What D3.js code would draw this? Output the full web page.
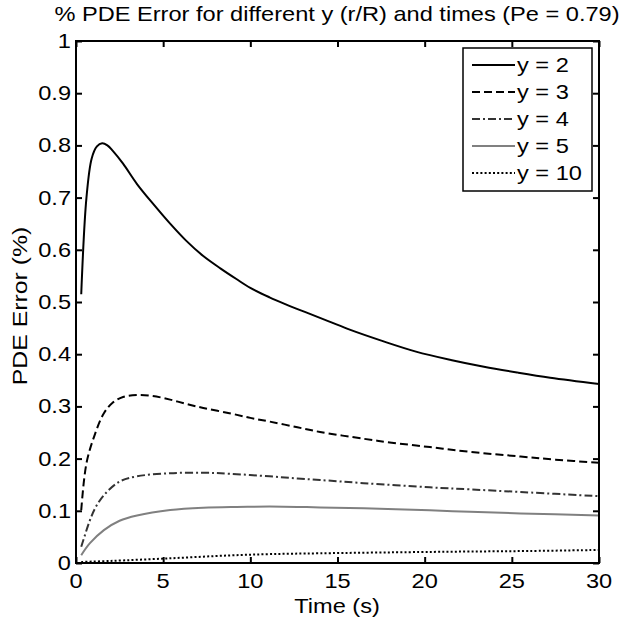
<!DOCTYPE html>
<html>
<head>
<meta charset="utf-8">
<script src="https://cdn.jsdelivr.net/npm/d3@7"></script>
<style>
  html, body { margin: 0; padding: 0; background: #fff; }
  text { font-family: "Liberation Sans", Arial, sans-serif; fill: #000; }
</style>
</head>
<body>
<svg id="chart" width="622" height="621"></svg>
<script>
// ---- data ----
const xTicks = [0, 5, 10, 15, 20, 25, 30];
const yTicks = [0, 0.1, 0.2, 0.3, 0.4, 0.5, 0.6, 0.7, 0.8, 0.9, 1];
const yTickLabels = ["0", "0.1", "0.2", "0.3", "0.4", "0.5", "0.6", "0.7", "0.8", "0.9", "1"];
const seriesNames = ["y = 2", "y = 3", "y = 4", "y = 5", "y = 10"];

const t2 = [0.3, 0.6, 0.9, 1.2, 1.5, 1.8, 2.1, 2.7, 3.5, 4.5, 5.4, 6.3, 7.3, 8.3, 9.2, 10, 11.1, 12, 13.2, 14.5, 15.7, 17.6, 19.5, 21.5, 23.4, 25.3, 27.2, 30];
const v2 = [0.515, 0.700, 0.775, 0.798, 0.804, 0.800, 0.790, 0.765, 0.726, 0.685, 0.650, 0.618, 0.588, 0.564, 0.544, 0.527, 0.509, 0.496, 0.480, 0.463, 0.447, 0.425, 0.405, 0.389, 0.376, 0.365, 0.355, 0.343];

const t3 = [0.3, 0.6, 1.1, 1.6, 2.1, 2.7, 3.5, 4.4, 5.4, 6.3, 7.3, 8.8, 10, 11.1, 12.7, 14, 16.5, 18, 20.3, 22.6, 25.5, 27.5, 30];
const v3 = [0.101, 0.191, 0.248, 0.287, 0.307, 0.318, 0.322, 0.320, 0.313, 0.305, 0.297, 0.287, 0.278, 0.271, 0.260, 0.251, 0.238, 0.231, 0.222, 0.213, 0.204, 0.198, 0.192];

const t4 = [0.3, 0.8, 1.1, 1.6, 2.5, 3.5, 5.4, 7.3, 8.8, 11.1, 12.7, 14, 16.5, 20.3, 22.6, 25.5, 30];
const v4 = [0.031, 0.082, 0.105, 0.130, 0.156, 0.166, 0.172, 0.173, 0.171, 0.166, 0.162, 0.159, 0.153, 0.145, 0.141, 0.136, 0.128];

const t5 = [0.3, 0.8, 1.6, 2.5, 3.5, 5.4, 7.3, 9.2, 11.1, 12.7, 14, 16.5, 20.3, 22.6, 25.5, 30];
const v5 = [0.015, 0.038, 0.063, 0.081, 0.091, 0.1015, 0.106, 0.1075, 0.108, 0.1075, 0.1065, 0.105, 0.101, 0.098, 0.095, 0.091];

const t10 = [0.3, 2, 5.4, 8.8, 11.1, 14, 19.7, 22.6, 26, 30];
const v10 = [0.002, 0.004, 0.009, 0.0145, 0.017, 0.0186, 0.021, 0.022, 0.023, 0.025];

// ---- layout ----
const svg = d3.select("#chart");
const L = 76, R = 599, T = 41, B = 563;
const x = d3.scaleLinear().domain([0, 30]).range([L, R]);
const y = d3.scaleLinear().domain([0, 1]).range([B, T]);
const FS = 20, SX = 1.18;

const styles = [
  { color: "#000", dash: null, width: 2 },
  { color: "#000", dash: "8,4", width: 2 },
  { color: "#333", dash: "8,3,2,3", width: 2 },
  { color: "#808080", dash: null, width: 2 },
  { color: "#000", dash: "2,2.2", width: 2 }
];
const series = [[t2, v2], [t3, v3], [t4, v4], [t5, v5], [t10, v10]];

const line = d3.line().x(d => x(d[0])).y(d => y(d[1])).curve(d3.curveCatmullRom.alpha(0.5));

const gLines = svg.append("g");
series.forEach((s, i) => {
  const pts = s[0].map((t, k) => [t, s[1][k]]);
  gLines.append("path").datum(pts)
    .attr("d", line)
    .attr("fill", "none")
    .attr("stroke", styles[i].color)
    .attr("stroke-width", styles[i].width)
    .attr("stroke-dasharray", styles[i].dash);
});

// axes (ticks inward, mirrored)
function styleAxis(g) {
  g.select(".domain").remove();
  g.selectAll(".tick line").attr("stroke", "#000").attr("stroke-width", 2);
}
svg.append("g").attr("transform", `translate(0,${B})`)
  .call(d3.axisBottom(x).tickValues(xTicks).tickSize(-6).tickFormat(""))
  .call(styleAxis);
svg.append("g").attr("transform", `translate(0,${T})`)
  .call(d3.axisTop(x).tickValues(xTicks).tickSize(-6).tickFormat(""))
  .call(styleAxis);
svg.append("g").attr("transform", `translate(${L},0)`)
  .call(d3.axisLeft(y).tickValues(yTicks).tickSize(-6).tickFormat(""))
  .call(styleAxis);
svg.append("g").attr("transform", `translate(${R},0)`)
  .call(d3.axisRight(y).tickValues(yTicks).tickSize(-6).tickFormat(""))
  .call(styleAxis);

svg.append("rect").attr("x", L).attr("y", T).attr("width", R - L).attr("height", B - T)
  .attr("fill", "none").attr("stroke", "#000").attr("stroke-width", 2);

function stext(px, py, str, anchor, rot, sx) {
  const g = svg.append("g").attr("transform", `translate(${px},${py})` + (rot ? ` rotate(${rot})` : "") + ` scale(${sx || SX},1)`);
  g.append("text").attr("text-anchor", anchor).attr("font-size", FS).text(str);
}

// tick labels
xTicks.forEach(v => stext(x(v), 588, String(v), "middle"));
yTicks.forEach((v, i) => stext(71, y(v) + 7, yTickLabels[i], "end"));

// titles
stext(337, 21, "% PDE Error for different y (r/R) and times (Pe = 0.79)", "middle");
stext(337, 613, "Time (s)", "middle");
stext(27, 306, "PDE Error (%)", "middle", -90, 1.24);

// legend
const lg = svg.append("g");
lg.append("rect").attr("x", 463).attr("y", 48).attr("width", 129).attr("height", 143)
  .attr("fill", "#fff").attr("stroke", "#000").attr("stroke-width", 1.5);
const rowY = [65, 92, 119, 146, 173];
seriesNames.forEach((n, i) => {
  lg.append("line").attr("x1", 472).attr("x2", 515).attr("y1", rowY[i]).attr("y2", rowY[i])
    .attr("stroke", styles[i].color).attr("stroke-width", styles[i].width)
    .attr("stroke-dasharray", styles[i].dash);
  stext(517, rowY[i] + 7, n, "start");
});
</script>
</body>
</html>
